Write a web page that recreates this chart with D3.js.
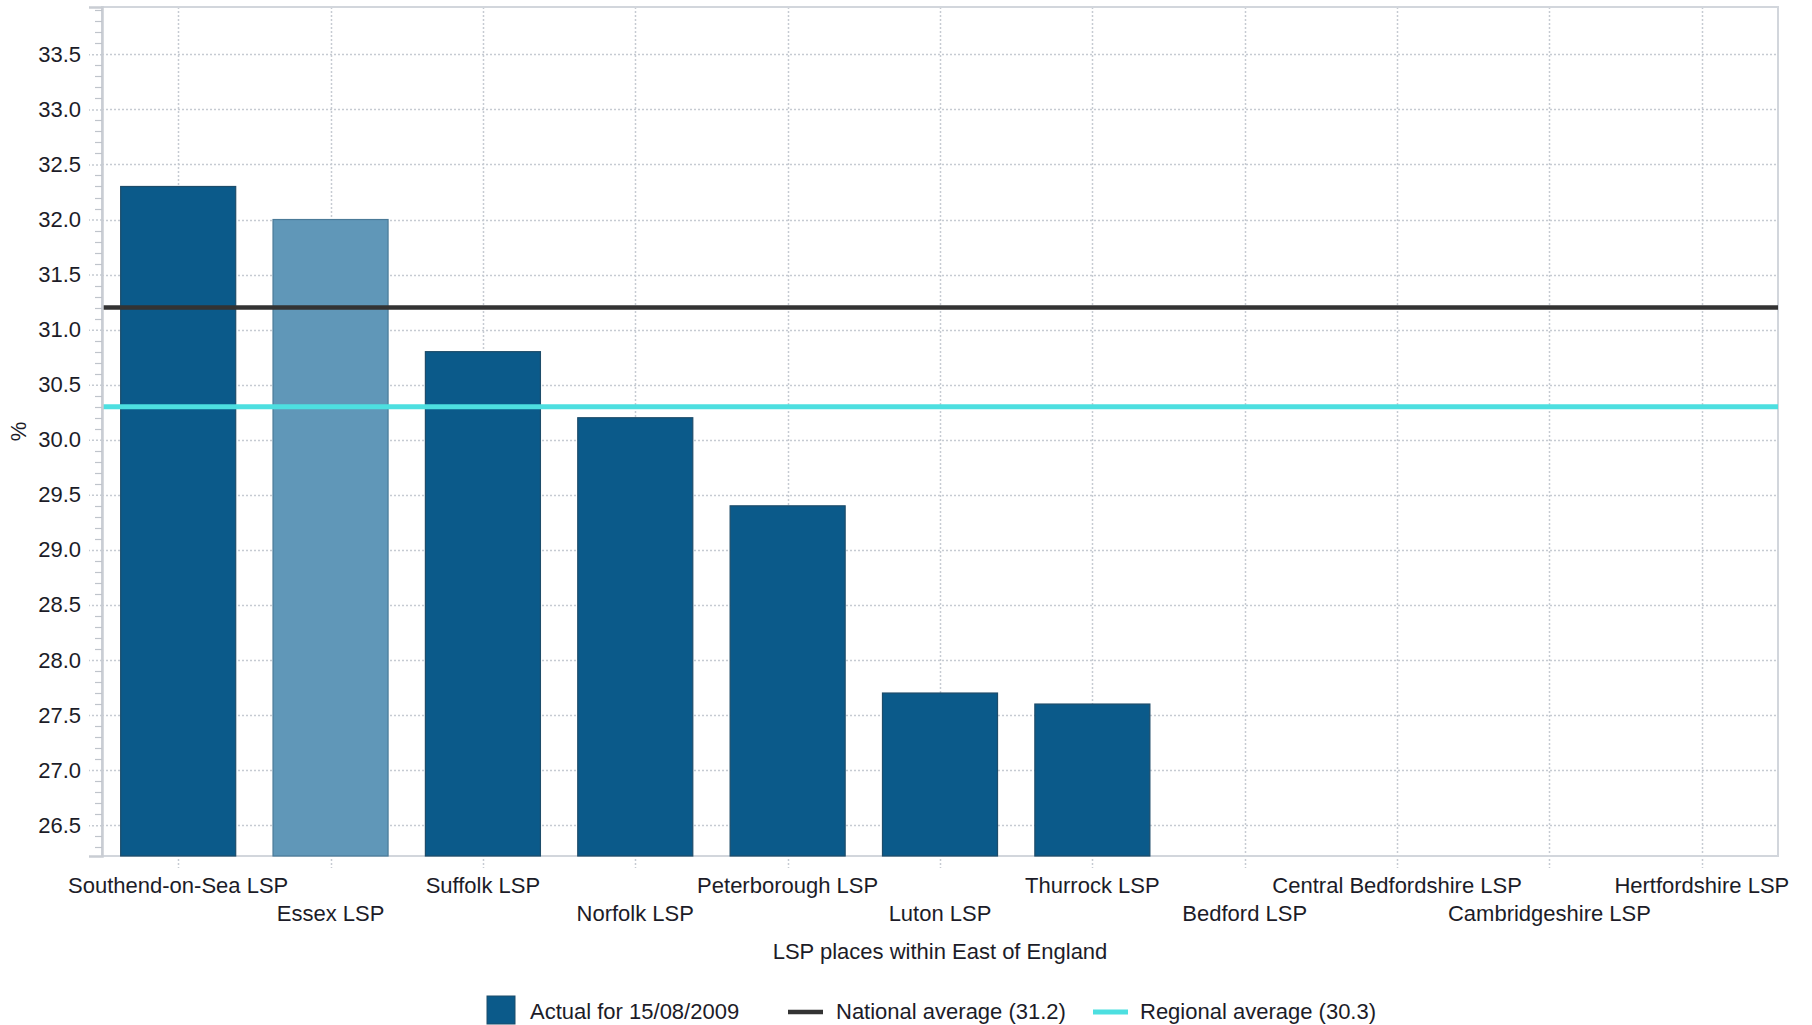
<!DOCTYPE html>
<html>
<head>
<meta charset="utf-8">
<script src="https://cdn.jsdelivr.net/npm/d3@7"></script>
<style>
  html, body { margin: 0; padding: 0; background: #fff; }
  svg { display: block; font-family: "Liberation Sans", Arial, sans-serif; }
</style>
</head>
<body>
<svg id="chart" width="1812" height="1025"></svg>
<script>
// ---- data ----
const categories = [
  "Southend-on-Sea LSP", "Essex LSP", "Suffolk LSP", "Norfolk LSP",
  "Peterborough LSP", "Luton LSP", "Thurrock LSP", "Bedford LSP",
  "Central Bedfordshire LSP", "Cambridgeshire LSP", "Hertfordshire LSP"
];
const actualValues = [32.3, 32.0, 30.8, 30.2, 29.4, 27.7, 27.6, null, null, null, null];
const highlighted = ["Essex LSP"];
const nationalAverage = 31.2;
const regionalAverage = 30.3;
const yTicks = [26.5, 27.0, 27.5, 28.0, 28.5, 29.0, 29.5, 30.0, 30.5, 31.0, 31.5, 32.0, 32.5, 33.0, 33.5];
const yDomain = [26.22, 33.93];
const xTitle = "LSP places within East of England";
const yTitle = "%";
const legendLabels = ["Actual for 15/08/2009", "National average (31.2)", "Regional average (30.3)"];

// ---- layout ----
const svg = d3.select("#chart");
const plot = { left: 102, right: 1778, top: 7, bottom: 856 };
const textColor = "#1c1c28";
const darkBar = "#0b5a8a", darkStroke = "#1d4c6a";
const lightBar = "#6097b8", lightStroke = "#4a7a98";
const gridColor = "#c6cbd2";

const x = d3.scaleBand().domain(categories)
  .range([plot.left, plot.right]).paddingInner(0.245).paddingOuter(0.1225);
const y = d3.scaleLinear().domain(yDomain).range([plot.bottom, plot.top]);
const xc = d => x(d) + x.bandwidth() / 2;

// gridlines
const g = svg.append("g");
g.selectAll("line.hgrid").data(yTicks).join("line")
  .attr("x1", plot.left).attr("x2", plot.right)
  .attr("y1", d => Math.round(y(d)) + 0.5).attr("y2", d => Math.round(y(d)) + 0.5)
  .attr("stroke", gridColor).attr("stroke-width", 1.5).attr("stroke-dasharray", "2,2");
g.selectAll("line.vgrid").data(categories).join("line")
  .attr("x1", d => Math.round(xc(d)) + 0.5).attr("x2", d => Math.round(xc(d)) + 0.5)
  .attr("y1", plot.top).attr("y2", plot.bottom + 12)
  .attr("stroke", gridColor).attr("stroke-width", 1.5).attr("stroke-dasharray", "2,2");

// plot border
svg.append("rect").attr("x", plot.left).attr("y", plot.top)
  .attr("width", plot.right - plot.left).attr("height", plot.bottom - plot.top)
  .attr("fill", "none").attr("stroke", "#d2d6dc").attr("stroke-width", 2);

// bars
const barData = categories.map((c, i) => ({ c, v: actualValues[i] })).filter(d => d.v != null);
svg.append("g").selectAll("rect").data(barData).join("rect")
  .attr("x", d => x(d.c)).attr("width", x.bandwidth())
  .attr("y", d => y(d.v)).attr("height", d => plot.bottom - y(d.v))
  .attr("fill", d => highlighted.includes(d.c) ? lightBar : darkBar)
  .attr("stroke", d => highlighted.includes(d.c) ? lightStroke : darkStroke)
  .attr("stroke-width", 1.2);

// reference lines
svg.append("line").attr("x1", plot.left).attr("x2", plot.right)
  .attr("y1", y(nationalAverage)).attr("y2", y(nationalAverage))
  .attr("stroke", "#333333").attr("stroke-width", 4.5);
svg.append("line").attr("x1", plot.left).attr("x2", plot.right)
  .attr("y1", y(regionalAverage)).attr("y2", y(regionalAverage))
  .attr("stroke", "#4ddfe0").attr("stroke-width", 5);

// y axis
const yAxis = d3.axisLeft(y).tickValues(yTicks).tickFormat(d3.format(".1f")).tickSize(13).tickPadding(8);
const ya = svg.append("g").attr("transform", `translate(${plot.left},0)`).call(yAxis);
ya.select(".domain").attr("stroke", "#c9cdd3").attr("stroke-width", 2.5);
ya.selectAll(".tick line").attr("stroke", gridColor).attr("stroke-width", 1.5).attr("stroke-dasharray", "2,2");
ya.selectAll(".tick text").attr("fill", textColor).style("font-size", "22px")
  .style("font-family", "'Liberation Sans', Arial, sans-serif");
// minor ticks
const minor = d3.range(Math.ceil(yDomain[0] * 10), Math.floor(yDomain[1] * 10) + 1)
  .map(v => v / 10).filter(v => Math.abs(v * 2 - Math.round(v * 2)) > 1e-6);
svg.append("g").selectAll("line").data(minor).join("line")
  .attr("x1", plot.left - 7).attr("x2", plot.left)
  .attr("y1", d => Math.round(y(d)) + 0.5).attr("y2", d => Math.round(y(d)) + 0.5)
  .attr("stroke", "#bfc4cb").attr("stroke-width", 1.2);

// x labels (staggered)
svg.append("g").selectAll("text").data(categories).join("text")
  .attr("x", d => xc(d))
  .attr("y", (d, i) => i % 2 === 0 ? 893 : 921)
  .attr("text-anchor", "middle").attr("fill", textColor)
  .style("font-size", "22px").text(d => d);

// axis titles
svg.append("text").attr("x", (plot.left + plot.right) / 2).attr("y", 959)
  .attr("text-anchor", "middle").attr("fill", textColor).style("font-size", "22px").text(xTitle);
svg.append("text").attr("transform", `translate(26,${(plot.top + plot.bottom) / 2}) rotate(-90)`)
  .attr("text-anchor", "middle").attr("fill", textColor).style("font-size", "22px").text(yTitle);

// legend
const lg = svg.append("g");
lg.append("rect").attr("x", 487).attr("y", 996).attr("width", 28).attr("height", 28)
  .attr("fill", darkBar).attr("stroke", darkStroke).attr("stroke-width", 1);
lg.append("text").attr("x", 530).attr("y", 1019).attr("fill", textColor).style("font-size", "22px").text(legendLabels[0]);
lg.append("line").attr("x1", 788).attr("x2", 823).attr("y1", 1012).attr("y2", 1012)
  .attr("stroke", "#333333").attr("stroke-width", 4.5);
lg.append("text").attr("x", 836).attr("y", 1019).attr("fill", textColor).style("font-size", "22px").text(legendLabels[1]);
lg.append("line").attr("x1", 1093).attr("x2", 1128).attr("y1", 1012).attr("y2", 1012)
  .attr("stroke", "#4ddfe0").attr("stroke-width", 5);
lg.append("text").attr("x", 1140).attr("y", 1019).attr("fill", textColor).style("font-size", "22px").text(legendLabels[2]);
</script>
</body>
</html>
